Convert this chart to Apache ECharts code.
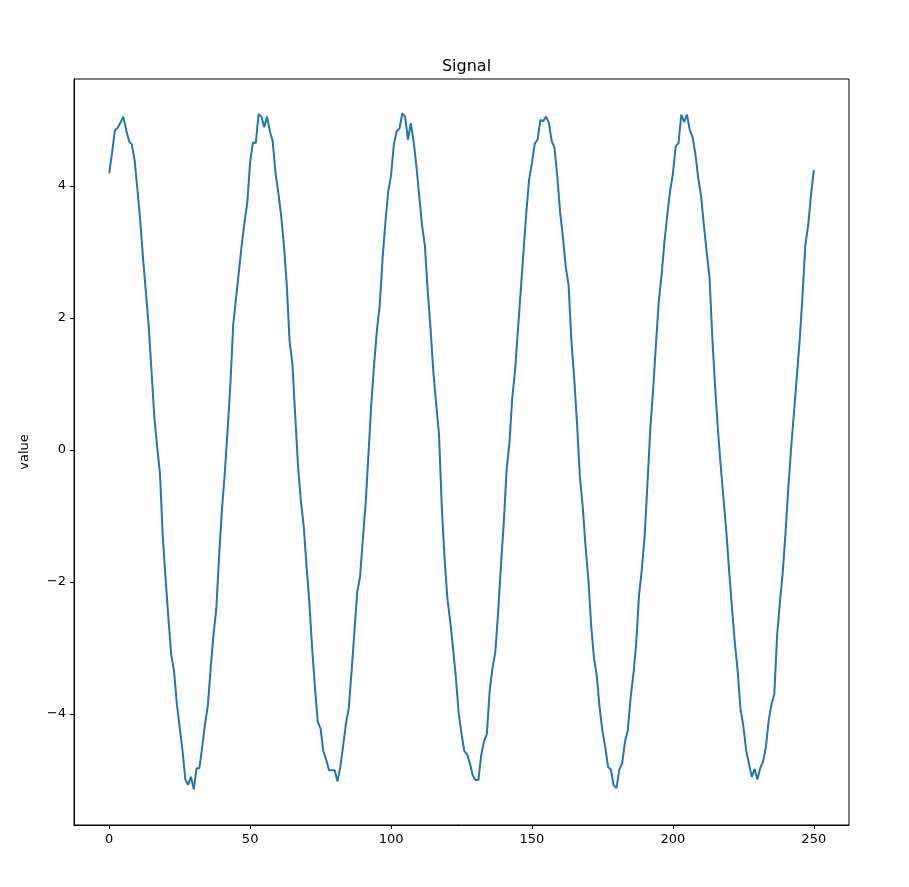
<!DOCTYPE html>
<html>
<head>
<meta charset="utf-8">
<script src="https://cdn.jsdelivr.net/npm/echarts@6/dist/echarts.min.js"></script>
<style>
  html, body { margin: 0; padding: 0; background: #fff; }
  #chart { width: 909px; height: 887px; }
</style>
</head>
<body>
<div id="chart"></div>
<script>
// signal values, one per sample 0..250
var signal = [
  4.19, 4.50, 4.84, 4.88, 4.96, 5.05, 4.85, 4.68, 4.63, 4.39,
  3.95, 3.48, 2.90, 2.40, 1.88, 1.20, 0.50, 0.05, -0.35, -1.31,
  -1.95, -2.55, -3.10, -3.35, -3.85, -4.20, -4.55, -4.99, -5.07, -4.95,
  -5.14, -4.82, -4.82, -4.50, -4.15, -3.87, -3.30, -2.80, -2.40, -1.60,
  -0.90, -0.35, 0.30, 1.00, 1.90, 2.30, 2.70, 3.10, 3.45, 3.75,
  4.36, 4.66, 4.65, 5.09, 5.05, 4.89, 5.05, 4.83, 4.68, 4.20,
  3.90, 3.55, 3.10, 2.50, 1.65, 1.30, 0.52, -0.25, -0.77, -1.15,
  -1.75, -2.30, -3.00, -3.60, -4.12, -4.22, -4.57, -4.69, -4.85, -4.85,
  -4.85, -5.02, -4.80, -4.48, -4.14, -3.91, -3.35, -2.75, -2.15, -1.92,
  -1.35, -0.80, -0.05, 0.70, 1.30, 1.82, 2.20, 2.90, 3.45, 3.92,
  4.16, 4.63, 4.83, 4.87, 5.10, 5.05, 4.70, 4.95, 4.68, 4.30,
  3.85, 3.40, 3.10, 2.42, 1.85, 1.19, 0.70, 0.25, -0.85, -1.65,
  -2.25, -2.60, -3.00, -3.45, -3.98, -4.30, -4.56, -4.61, -4.75, -4.93,
  -5.00, -5.00, -4.62, -4.41, -4.30, -3.65, -3.30, -3.06, -2.46, -1.75,
  -1.10, -0.30, 0.10, 0.78, 1.20, 1.80, 2.40, 3.00, 3.60, 4.10,
  4.35, 4.64, 4.70, 5.00, 4.98, 5.05, 4.96, 4.68, 4.58, 4.14,
  3.60, 3.22, 2.77, 2.50, 1.65, 1.08, 0.40, -0.40, -0.85, -1.45,
  -1.95, -2.65, -3.15, -3.42, -3.90, -4.25, -4.50, -4.80, -4.84, -5.08,
  -5.12, -4.84, -4.75, -4.42, -4.25, -3.75, -3.40, -2.92, -2.20, -1.80,
  -1.30, -0.50, 0.32, 0.92, 1.60, 2.25, 2.65, 3.15, 3.55, 3.92,
  4.18, 4.60, 4.65, 5.08, 4.97, 5.08, 4.85, 4.74, 4.48, 4.12,
  3.85, 3.41, 3.00, 2.62, 1.70, 0.95, 0.30, -0.25, -0.75, -1.25,
  -1.85, -2.40, -2.93, -3.35, -3.92, -4.18, -4.55, -4.75, -4.95, -4.83,
  -4.99, -4.82, -4.72, -4.50, -4.10, -3.85, -3.70, -2.80, -2.30, -1.85,
  -1.24, -0.55, 0.05, 0.58, 1.12, 1.66, 2.33, 3.10, 3.40, 3.85,
  4.24
];
var xTicks = [0, 50, 100, 150, 200, 250];
var yTicks = [-4, -2, 0, 2, 4];

var points = signal.map(function (v, i) { return [i, v]; });

function minusSign (v) {
  return String(v).replace('-', '\u2212');
}

var myChart = echarts.init(document.getElementById('chart'));
myChart.setOption({
  animation: false,
  textStyle: { fontFamily: 'DejaVu Sans' },
  title: {
    text: 'Signal',
    left: 461.5,
    top: 54,
    textAlign: 'center',
    textStyle: { fontSize: 16, fontWeight: 'normal', color: '#000', fontFamily: 'DejaVu Sans' }
  },
  grid: {
    left: 74,
    right: 60,
    top: 79,
    bottom: 62,
    show: true,
    borderColor: '#000',
    borderWidth: 1,
    backgroundColor: '#fff'
  },
  xAxis: {
    type: 'value',
    min: -12.5,
    max: 262.5,
    splitLine: { show: false },
    axisLine: { show: true, onZero: false, lineStyle: { color: '#000', width: 1 } },
    axisTick: { show: true, length: 4, customValues: xTicks, lineStyle: { color: '#000' } },
    axisLabel: {
      customValues: xTicks,
      margin: 8,
      fontSize: 13,
      color: '#000',
      formatter: minusSign
    }
  },
  yAxis: {
    type: 'value',
    min: -5.68,
    max: 5.62,
    name: 'value',
    nameLocation: 'middle',
    nameGap: 43,
    nameTextStyle: { fontSize: 13, color: '#000' },
    splitLine: { show: false },
    axisLine: { show: true, onZero: false, lineStyle: { color: '#000', width: 1 } },
    axisTick: { show: true, length: 4, customValues: yTicks, lineStyle: { color: '#000' } },
    axisLabel: {
      customValues: yTicks,
      margin: 8,
      fontSize: 13,
      color: '#000',
      formatter: minusSign
    }
  },
  series: [
    {
      type: 'line',
      data: points,
      showSymbol: false,
      lineStyle: { color: '#1f77b4', width: 2 },
      itemStyle: { color: '#1f77b4' }
    }
  ]
});
</script>
</body>
</html>
